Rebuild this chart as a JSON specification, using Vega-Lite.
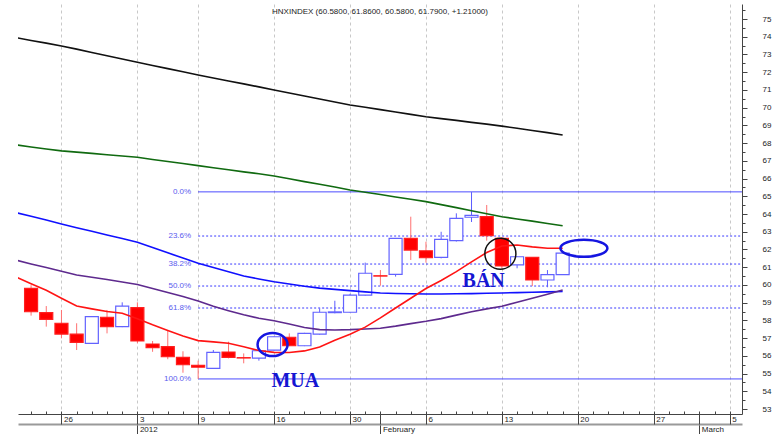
{
  "$schema": "https://vega.github.io/schema/vega-lite/v6.json",
  "width": 724,
  "height": 410,
  "autosize": {"type": "none"},
  "padding": {"left": 18, "top": 4, "right": 35, "bottom": 20},
  "background": "white",
  "config": {"view": {"stroke": null}},
  "title": {"text": "HNXINDEX (60.5800, 61.8600, 60.5800, 61.7900, +1.21000)", "font": "Liberation Sans", "fontSize": 8, "fontWeight": "normal", "color": "#222222", "anchor": "middle", "offset": -12, "frame": "group"},
  "datasets": {
    "candles": [
      {"i": -2, "date": "2011-12-22", "open": 59.81, "high": 59.99, "low": 58.27, "close": 58.49},
      {"i": -1, "date": "2011-12-23", "open": 58.44, "high": 58.81, "low": 57.65, "close": 58.06},
      {"i": 0, "date": "2011-12-26", "open": 57.84, "high": 58.59, "low": 56.99, "close": 57.23},
      {"i": 1, "date": "2011-12-27", "open": 57.23, "high": 57.84, "low": 56.33, "close": 56.76},
      {"i": 2, "date": "2011-12-28", "open": 56.71, "high": 58.25, "low": 56.68, "close": 58.21},
      {"i": 3, "date": "2011-12-29", "open": 58.18, "high": 58.59, "low": 57.27, "close": 57.65},
      {"i": 4, "date": "2011-12-30", "open": 57.65, "high": 59.02, "low": 57.62, "close": 58.81},
      {"i": 5, "date": "2012-01-03", "open": 58.72, "high": 59.02, "low": 56.71, "close": 56.84},
      {"i": 6, "date": "2012-01-04", "open": 56.67, "high": 56.84, "low": 56.23, "close": 56.46},
      {"i": 7, "date": "2012-01-05", "open": 56.52, "high": 57.46, "low": 55.81, "close": 55.95},
      {"i": 8, "date": "2012-01-06", "open": 55.92, "high": 56.26, "low": 55.05, "close": 55.5},
      {"i": 9, "date": "2012-01-09", "open": 55.47, "high": 55.73, "low": 54.7, "close": 55.36},
      {"i": 10, "date": "2012-01-10", "open": 55.3, "high": 56.33, "low": 55.27, "close": 56.2},
      {"i": 11, "date": "2012-01-11", "open": 56.22, "high": 56.8, "low": 55.86, "close": 55.92},
      {"i": 12, "date": "2012-01-12", "open": 55.9, "high": 56.14, "low": 55.58, "close": 55.88},
      {"i": 13, "date": "2012-01-13", "open": 55.87, "high": 56.32, "low": 55.73, "close": 56.29},
      {"i": 14, "date": "2012-01-16", "open": 56.33, "high": 57.1, "low": 56.3, "close": 57.08},
      {"i": 15, "date": "2012-01-17", "open": 57.05, "high": 57.27, "low": 56.55, "close": 56.57},
      {"i": 16, "date": "2012-01-18", "open": 56.57, "high": 57.3, "low": 56.55, "close": 57.27},
      {"i": 17, "date": "2012-01-19", "open": 57.23, "high": 58.68, "low": 57.2, "close": 58.46},
      {"i": 18, "date": "2012-01-20", "open": 58.44, "high": 59.11, "low": 58.4, "close": 58.48},
      {"i": 19, "date": "2012-01-30", "open": 58.46, "high": 59.5, "low": 58.44, "close": 59.43},
      {"i": 20, "date": "2012-01-31", "open": 59.43, "high": 61.26, "low": 59.4, "close": 60.66},
      {"i": 21, "date": "2012-02-01", "open": 60.52, "high": 60.84, "low": 59.96, "close": 60.5},
      {"i": 22, "date": "2012-02-02", "open": 60.6, "high": 62.65, "low": 60.47, "close": 62.63},
      {"i": 23, "date": "2012-02-03", "open": 62.63, "high": 63.85, "low": 61.41, "close": 61.97},
      {"i": 24, "date": "2012-02-06", "open": 61.93, "high": 62.44, "low": 61.26, "close": 61.54},
      {"i": 25, "date": "2012-02-07", "open": 61.56, "high": 63.0, "low": 61.5, "close": 62.57},
      {"i": 26, "date": "2012-02-08", "open": 62.5, "high": 64.04, "low": 62.45, "close": 63.76},
      {"i": 27, "date": "2012-02-09", "open": 63.82, "high": 65.24, "low": 63.55, "close": 63.92},
      {"i": 28, "date": "2012-02-10", "open": 63.85, "high": 64.51, "low": 62.5, "close": 62.78},
      {"i": 29, "date": "2012-02-13", "open": 62.63, "high": 62.7, "low": 60.94, "close": 61.07},
      {"i": 30, "date": "2012-02-14", "open": 61.13, "high": 61.6, "low": 60.94, "close": 61.59},
      {"i": 31, "date": "2012-02-15", "open": 61.56, "high": 61.56, "low": 59.94, "close": 60.28},
      {"i": 32, "date": "2012-02-16", "open": 60.28, "high": 60.84, "low": 59.87, "close": 60.58},
      {"i": 33, "date": "2012-02-17", "open": 60.58, "high": 61.86, "low": 60.58, "close": 61.79}
    ],
    "mas": [
      {"i": -3, "ma1": 73.95, "ma2": 67.9, "ma3": 64.08, "ma4": 61.4, "ma5": 60.45},
      {"i": -2, "ma1": 73.79, "ma2": 67.78, "ma3": 63.87, "ma4": 61.18, "ma5": 60.07},
      {"i": -1, "ma1": 73.64, "ma2": 67.67, "ma3": 63.66, "ma4": 60.98, "ma5": 59.7},
      {"i": 0, "ma1": 73.48, "ma2": 67.56, "ma3": 63.44, "ma4": 60.77, "ma5": 59.25},
      {"i": 1, "ma1": 73.3, "ma2": 67.49, "ma3": 63.23, "ma4": 60.56, "ma5": 58.81},
      {"i": 2, "ma1": 73.11, "ma2": 67.42, "ma3": 63.03, "ma4": 60.43, "ma5": 58.65},
      {"i": 3, "ma1": 72.93, "ma2": 67.34, "ma3": 62.82, "ma4": 60.31, "ma5": 58.5},
      {"i": 4, "ma1": 72.74, "ma2": 67.27, "ma3": 62.62, "ma4": 60.17, "ma5": 58.4},
      {"i": 5, "ma1": 72.56, "ma2": 67.2, "ma3": 62.41, "ma4": 60.03, "ma5": 58.1},
      {"i": 6, "ma1": 72.38, "ma2": 67.08, "ma3": 62.11, "ma4": 59.8, "ma5": 57.75},
      {"i": 7, "ma1": 72.2, "ma2": 66.96, "ma3": 61.81, "ma4": 59.57, "ma5": 57.43},
      {"i": 8, "ma1": 72.02, "ma2": 66.85, "ma3": 61.52, "ma4": 59.35, "ma5": 57.12},
      {"i": 9, "ma1": 71.84, "ma2": 66.73, "ma3": 61.22, "ma4": 59.1, "ma5": 56.86},
      {"i": 10, "ma1": 71.67, "ma2": 66.61, "ma3": 60.98, "ma4": 58.8, "ma5": 56.79},
      {"i": 11, "ma1": 71.5, "ma2": 66.5, "ma3": 60.74, "ma4": 58.55, "ma5": 56.71},
      {"i": 12, "ma1": 71.34, "ma2": 66.38, "ma3": 60.5, "ma4": 58.32, "ma5": 56.51},
      {"i": 13, "ma1": 71.17, "ma2": 66.27, "ma3": 60.34, "ma4": 58.12, "ma5": 56.3},
      {"i": 14, "ma1": 71.0, "ma2": 66.15, "ma3": 60.18, "ma4": 57.98, "ma5": 56.2},
      {"i": 15, "ma1": 70.83, "ma2": 65.99, "ma3": 60.05, "ma4": 57.8, "ma5": 56.19},
      {"i": 16, "ma1": 70.66, "ma2": 65.83, "ma3": 59.93, "ma4": 57.6, "ma5": 56.28},
      {"i": 17, "ma1": 70.49, "ma2": 65.68, "ma3": 59.82, "ma4": 57.48, "ma5": 56.5},
      {"i": 18, "ma1": 70.32, "ma2": 65.52, "ma3": 59.75, "ma4": 57.46, "ma5": 56.88},
      {"i": 19, "ma1": 70.15, "ma2": 65.36, "ma3": 59.68, "ma4": 57.48, "ma5": 57.22},
      {"i": 20, "ma1": 70.02, "ma2": 65.23, "ma3": 59.61, "ma4": 57.52, "ma5": 57.62},
      {"i": 21, "ma1": 69.89, "ma2": 65.1, "ma3": 59.55, "ma4": 57.56, "ma5": 58.14},
      {"i": 22, "ma1": 69.75, "ma2": 64.96, "ma3": 59.52, "ma4": 57.68, "ma5": 58.7},
      {"i": 23, "ma1": 69.62, "ma2": 64.83, "ma3": 59.5, "ma4": 57.82, "ma5": 59.25},
      {"i": 24, "ma1": 69.49, "ma2": 64.7, "ma3": 59.49, "ma4": 57.95, "ma5": 59.8},
      {"i": 25, "ma1": 69.38, "ma2": 64.53, "ma3": 59.49, "ma4": 58.1, "ma5": 60.25},
      {"i": 26, "ma1": 69.28, "ma2": 64.36, "ma3": 59.5, "ma4": 58.3, "ma5": 60.75},
      {"i": 27, "ma1": 69.17, "ma2": 64.19, "ma3": 59.51, "ma4": 58.49, "ma5": 61.3},
      {"i": 28, "ma1": 69.07, "ma2": 64.02, "ma3": 59.53, "ma4": 58.65, "ma5": 61.83},
      {"i": 29, "ma1": 68.96, "ma2": 63.85, "ma3": 59.55, "ma4": 58.8, "ma5": 62.2},
      {"i": 30, "ma1": 68.84, "ma2": 63.72, "ma3": 59.57, "ma4": 59.03, "ma5": 62.25},
      {"i": 31, "ma1": 68.71, "ma2": 63.6, "ma3": 59.59, "ma4": 59.25, "ma5": 62.15},
      {"i": 32, "ma1": 68.59, "ma2": 63.47, "ma3": 59.61, "ma4": 59.48, "ma5": 62.07},
      {"i": 33, "ma1": 68.46, "ma2": 63.34, "ma3": 59.63, "ma4": 59.72, "ma5": 62.07}
    ],
    "fib": [
      {"pct": "0.0%", "level": 65.25, "start": 9, "end": 45},
      {"pct": "23.6%", "level": 62.76, "start": 9, "end": 45},
      {"pct": "38.2%", "level": 61.18, "start": 9, "end": 45},
      {"pct": "50.0%", "level": 59.94, "start": 9, "end": 45},
      {"pct": "61.8%", "level": 58.7, "start": 9, "end": 45},
      {"pct": "100.0%", "level": 54.7, "start": 9, "end": 45}
    ],
    "notes": [
      {"name": "buy", "i": 13.9, "v": 56.64},
      {"name": "sell", "i": 28.9, "v": 61.76},
      {"name": "target", "i": 34.4, "v": 62.07}
    ],
    "words": [
      {"label": "MUA", "i": 15.4, "v": 54.24},
      {"label": "BÁN", "i": 27.8, "v": 59.88}
    ]
  },
  "resolve": {"axis": {"x": "independent", "y": "independent"}},
  "layer": [
    {
      "data": {"name": "fib"},
      "mark": {"type": "rule", "clip": true, "strokeWidth": 1},
      "encoding": {
        "x": {"field": "start", "type": "quantitative", "scale": {"domain": [-2.532, 44.48], "nice": false, "zero": false},
          "axis": {"orient": "bottom", "offset": 10, "values": [5, 21, 42], "tickSize": 10, "labelExpr": "datum.value == 5 ? '2012' : datum.value == 21 ? 'February' : datum.value == 42 ? 'March' : ''", "labelAlign": "left", "labelBaseline": "top", "labelOffset": 2, "labelPadding": -9, "labelFont": "Liberation Sans", "labelFontSize": 8, "labelColor": "#222222", "labelOverlap": false, "labelBound": false, "labelFlush": false, "domain": true, "domainColor": "#9a9a9a", "domainWidth": 2, "tickColor": "#444444", "grid": false, "title": null}},
        "x2": {"field": "end"},
        "y": {"field": "level", "type": "quantitative", "scale": {"domain": [52.722, 75.846], "nice": false, "zero": false}, "axis": null},
        "color": {"condition": {"test": "datum.pct === '0.0%' || datum.pct === '100.0%'", "value": "#3f3fff"}, "value": "#3a3aff"},
        "strokeDash": {"condition": {"test": "datum.pct === '0.0%' || datum.pct === '100.0%'", "value": [1, 0]}, "value": [2, 2]}
      }
    },
    {
      "data": {"name": "fib"},
      "mark": {"type": "text", "align": "right", "baseline": "middle", "dx": -7, "font": "Liberation Sans", "fontSize": 8, "color": "#5a5aee"},
      "encoding": {
        "x": {"field": "start", "type": "quantitative", "scale": {"domain": [-2.532, 44.48], "nice": false, "zero": false}, "axis": null},
        "y": {"field": "level", "type": "quantitative", "scale": {"domain": [52.722, 75.846], "nice": false, "zero": false}, "axis": null},
        "text": {"field": "pct"}
      }
    },
    {
      "data": {"name": "candles"},
      "mark": {"type": "rule", "strokeWidth": 1, "clip": true},
      "encoding": {
        "x": {"field": "i", "type": "quantitative", "scale": {"domain": [-2.532, 44.48], "nice": false, "zero": false},
          "axis": {"orient": "bottom", "values": [-2, -1, 0, 1, 2, 3, 4, 5, 6, 7, 8, 9, 10, 11, 12, 13, 14, 15, 16, 17, 18, 19, 20, 21, 22, 23, 24, 25, 26, 27, 28, 29, 30, 31, 32, 33, 34, 35, 36, 37, 38, 39, 40, 41, 42, 43, 44], "tickSize": -3, "labels": false, "domain": true, "domainColor": "#444444", "tickColor": "#444444", "grid": false, "title": null}},
        "y": {"field": "low", "type": "quantitative", "scale": {"domain": [52.722, 75.846], "nice": false, "zero": false},
          "axis": {"orient": "right", "values": [52.5, 53.5, 54.5, 55.5, 56.5, 57.5, 58.5, 59.5, 60.5, 61.5, 62.5, 63.5, 64.5, 65.5, 66.5, 67.5, 68.5, 69.5, 70.5, 71.5, 72.5, 73.5, 74.5, 75.5], "tickSize": 3, "labels": false, "domain": true, "domainColor": "#444444", "tickColor": "#444444", "grid": false, "title": null}},
        "y2": {"field": "high"},
        "color": {"condition": {"test": "datum.close >= datum.open", "value": "#5c5cff"}, "value": "#ff7070"}
      }
    },
    {
      "data": {"name": "candles"},
      "mark": {"type": "bar", "size": 13, "strokeWidth": 1.2, "clip": true},
      "encoding": {
        "x": {"field": "i", "type": "quantitative", "scale": {"domain": [-2.532, 44.48], "nice": false, "zero": false},
          "axis": {"orient": "bottom", "values": [0, 5, 9, 14, 19, 21, 24, 29, 34, 39, 42, 44], "tickSize": 10, "labelExpr": "datum.value == 0 ? '26' : datum.value == 5 ? '3' : datum.value == 9 ? '9' : datum.value == 14 ? '16' : datum.value == 19 ? '30' : datum.value == 24 ? '6' : datum.value == 29 ? '13' : datum.value == 34 ? '20' : datum.value == 39 ? '27' : datum.value == 44 ? '5' : ''", "labelAlign": "left", "labelBaseline": "top", "labelOffset": 2, "labelPadding": -9, "labelFont": "Liberation Sans", "labelFontSize": 8, "labelColor": "#222222", "labelOverlap": false, "labelBound": false, "labelFlush": false, "domain": false, "tickColor": "#444444", "grid": true, "gridDash": [3, 3], "gridColor": "#c8c8c8", "gridOpacity": {"condition": {"test": "datum.value == 21 || datum.value == 42", "value": 0}, "value": 1}, "title": null}},
        "y": {"field": "open", "type": "quantitative", "scale": {"domain": [52.722, 75.846], "nice": false, "zero": false},
          "axis": {"orient": "right", "values": [53, 54, 55, 56, 57, 58, 59, 60, 61, 62, 63, 64, 65, 66, 67, 68, 69, 70, 71, 72, 73, 74, 75], "tickSize": 5, "labelPadding": 15, "labelFont": "Liberation Sans", "labelFontSize": 8, "labelColor": "#222222", "labelOverlap": false, "labelBound": false, "labelFlush": false, "domain": false, "tickColor": "#444444", "grid": false, "title": null}},
        "y2": {"field": "close"},
        "fill": {"condition": {"test": "datum.close >= datum.open", "value": "#ffffff"}, "value": "#ff0000"},
        "stroke": {"condition": {"test": "datum.close >= datum.open", "value": "#6262ff"}, "value": "#ff2020"}
      }
    },
    {
      "data": {"name": "mas"},
      "transform": [{"fold": ["ma1", "ma2", "ma3", "ma4", "ma5"], "as": ["series", "value"]}],
      "mark": {"type": "line", "clip": true, "interpolate": "linear"},
      "encoding": {
        "x": {"field": "i", "type": "quantitative", "scale": {"domain": [-2.532, 44.48], "nice": false, "zero": false}, "axis": null},
        "y": {"field": "value", "type": "quantitative", "scale": {"domain": [52.722, 75.846], "nice": false, "zero": false}, "axis": null},
        "color": {"field": "series", "type": "nominal", "scale": {"domain": ["ma1", "ma2", "ma3", "ma4", "ma5"], "range": ["#111111", "#106a10", "#1010ff", "#5e2a8e", "#ff1414"]}, "legend": null},
        "strokeWidth": {"field": "series", "type": "nominal", "scale": {"domain": ["ma1", "ma2", "ma3", "ma4", "ma5"], "range": [1.6, 1.6, 3, 1.6, 1.5]}, "legend": null}
      }
    },
    {
      "data": {"name": "notes"},
      "mark": {"type": "point", "filled": false, "opacity": 1},
      "encoding": {
        "x": {"field": "i", "type": "quantitative", "scale": {"domain": [-2.532, 44.48], "nice": false, "zero": false}, "axis": null},
        "y": {"field": "v", "type": "quantitative", "scale": {"domain": [52.722, 75.846], "nice": false, "zero": false}, "axis": null},
        "shape": {"condition": [{"test": "datum.name === 'sell'", "value": "circle"}, {"test": "datum.name === 'buy'", "value": "M-1,0A1,0.767,0,1,0,1,0A1,0.767,0,1,0,-1,0Z"}], "value": "M-1,0A1,0.362,0,1,0,1,0A1,0.362,0,1,0,-1,0Z"},
        "size": {"condition": [{"test": "datum.name === 'sell'", "value": 961}, {"test": "datum.name === 'buy'", "value": 900}], "value": 2209},
        "stroke": {"condition": {"test": "datum.name === 'sell'", "value": "#111111"}, "value": "#1515e0"},
        "strokeWidth": {"condition": {"test": "datum.name === 'sell'", "value": 1.5}, "value": 2.5}
      }
    },
    {
      "data": {"name": "words"},
      "mark": {"type": "text", "font": "Liberation Serif", "fontSize": 20, "fontWeight": "bold", "align": "center", "baseline": "alphabetic", "color": "#1515d2"},
      "encoding": {
        "x": {"field": "i", "type": "quantitative", "scale": {"domain": [-2.532, 44.48], "nice": false, "zero": false}, "axis": null},
        "y": {"field": "v", "type": "quantitative", "scale": {"domain": [52.722, 75.846], "nice": false, "zero": false}, "axis": null},
        "text": {"field": "label"}
      }
    }
  ]
}
